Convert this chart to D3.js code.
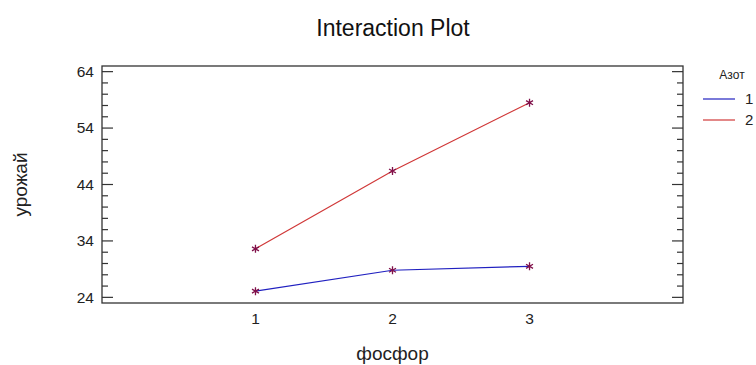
<!DOCTYPE html>
<html lang="ru">
<head>
  <meta charset="UTF-8">
  <title>Interaction Plot</title>
  <style>
    body { margin: 0; background: #fff; }
    svg { display: block; font-family: Arial, "Liberation Sans", sans-serif; }
  </style>
</head>
<body>
  <script src="https://d3js.org/d3.v7.min.js"></script>
  <script>
    // data
    const phosphorus = [1, 2, 3];
    const nitrogenLevels = ["1", "2"];
    const yieldN1 = [25.1, 28.8, 29.5];
    const yieldN2 = [32.6, 46.4, 58.5];
    const yTicks = [24, 34, 44, 54, 64];
    const lineColors = ["#2020c0", "#d03838"];

    const width = 756, height = 365;
    const margin = { top: 66, right: 73, bottom: 62, left: 102 };
    const svg = d3.select("body").append("svg")
      .attr("width", width)
      .attr("height", height);

    const x = d3.scaleLinear()
      .domain([-0.12, 4.12])
      .range([margin.left, width - margin.right]);
    const y = d3.scaleLinear()
      .domain([23, 65])
      .range([height - margin.bottom, margin.top]);

    const series = [yieldN1, yieldN2].map((vals, i) => ({
      key: nitrogenLevels[i],
      color: lineColors[i],
      values: vals.map((v, j) => ({ x: phosphorus[j], y: v }))
    }));

    // frame
    svg.append("rect")
      .attr("x", margin.left).attr("y", margin.top)
      .attr("width", width - margin.left - margin.right)
      .attr("height", height - margin.top - margin.bottom)
      .attr("fill", "none")
      .attr("stroke", "#333")
      .attr("stroke-width", 1.3);

    // y ticks, pointing inwards on both sides
    const minor = d3.range(24, 65, 2);
    const tickG = svg.append("g").attr("stroke", "#333").attr("stroke-width", 1.2);
    minor.forEach(v => {
      const len = yTicks.includes(v) ? 11 : 6;
      tickG.append("line")
        .attr("x1", x.range()[0]).attr("x2", x.range()[0] + len)
        .attr("y1", y(v)).attr("y2", y(v));
      tickG.append("line")
        .attr("x1", x.range()[1]).attr("x2", x.range()[1] - len)
        .attr("y1", y(v)).attr("y2", y(v));
    });

    svg.append("g")
      .selectAll("text")
      .data(yTicks)
      .join("text")
      .attr("x", margin.left - 8)
      .attr("y", d => y(d))
      .attr("dy", "0.35em")
      .attr("text-anchor", "end")
      .attr("font-size", 15.5)
      .attr("fill", "#222")
      .text(d => d);

    svg.append("g")
      .selectAll("text")
      .data(phosphorus)
      .join("text")
      .attr("x", d => x(d))
      .attr("y", height - margin.bottom + 21)
      .attr("text-anchor", "middle")
      .attr("font-size", 15.5)
      .attr("fill", "#222")
      .text(d => d);

    // lines
    const line = d3.line().x(d => x(d.x)).y(d => y(d.y));
    svg.append("g")
      .selectAll("path")
      .data(series)
      .join("path")
      .attr("d", d => line(d.values))
      .attr("fill", "none")
      .attr("stroke", d => d.color)
      .attr("stroke-width", 1.2);

    // asterisk markers
    const star = d3.symbol().type(d3.symbolAsterisk).size(45);
    svg.append("g")
      .selectAll("path")
      .data(series.flatMap(s => s.values))
      .join("path")
      .attr("transform", d => `translate(${x(d.x)},${y(d.y)})`)
      .attr("d", star)
      .attr("fill", "none")
      .attr("stroke", "#80104a")
      .attr("stroke-width", 1.3);

    // titles
    svg.append("text")
      .attr("x", 393).attr("y", 36)
      .attr("text-anchor", "middle")
      .attr("font-size", 23)
      .attr("fill", "#111")
      .text("Interaction Plot");

    svg.append("text")
      .attr("x", (x.range()[0] + x.range()[1]) / 2)
      .attr("y", height - 5)
      .attr("text-anchor", "middle")
      .attr("font-size", 19)
      .attr("fill", "#222")
      .text("фосфор");

    svg.append("text")
      .attr("transform", `translate(27,${(y.range()[0] + y.range()[1]) / 2}) rotate(-90)`)
      .attr("text-anchor", "middle")
      .attr("font-size", 19)
      .attr("fill", "#222")
      .text("урожай");

    // legend
    const legend = svg.append("g");
    legend.append("text")
      .attr("x", 732).attr("y", 79)
      .attr("text-anchor", "middle")
      .attr("font-size", 12)
      .attr("fill", "#222")
      .text("Азот");
    const item = legend.selectAll("g")
      .data(series)
      .join("g")
      .attr("transform", (d, i) => `translate(703,${99 + i * 21})`);
    item.append("line")
      .attr("x1", 0).attr("x2", 32)
      .attr("stroke", d => d.color)
      .attr("stroke-width", 1.2);
    item.append("text")
      .attr("x", 42).attr("dy", "0.35em")
      .attr("font-size", 15)
      .attr("fill", "#222")
      .text(d => d.key);
  </script>
</body>
</html>
